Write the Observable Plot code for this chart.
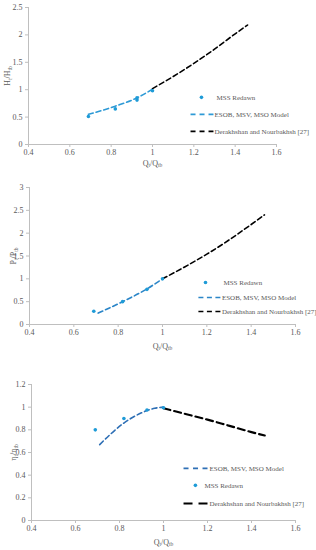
<!DOCTYPE html>
<html>
<head>
<meta charset="utf-8">
<script src="https://cdn.jsdelivr.net/npm/d3@7"></script>
<script src="https://cdn.jsdelivr.net/npm/@observablehq/plot@0.6"></script>
<style>
  body { margin: 0; background: #fff; }
  #wrap { position: relative; width: 316px; height: 550px; overflow: hidden; }
  .fig { position: absolute; left: 0; }
</style>
</head>
<body>
<div id="wrap"></div>
<script>
// ---- shared ----
const xTicks = [0.4, 0.6, 0.8, 1, 1.2, 1.4, 1.6];
const xLabel = "Q{t}/Q{tb}";
const legendNames = ["MSS Redawn", "ESOB, MSV, MSO Model", "Derakhshan and Nourbakhsh [27]"];

// ---- chart 1: head ratio ----
const hTicks = [0, 0.5, 1, 1.5, 2, 2.5];
const hMssQ = [0.69, 0.82, 0.925, 0.925, 1.0];
const hMssV = [0.51, 0.65, 0.81, 0.85, 0.98];
const hModelQ = [0.69, 0.82, 0.93, 1.0];
const hModelV = [0.55, 0.70, 0.86, 1.01];
const hDerQ = [1.0, 1.1, 1.2, 1.3, 1.4, 1.46];
const hDerV = [1.02, 1.24, 1.48, 1.74, 2.02, 2.18];

// ---- chart 2: power ratio ----
const pTicks = [0, 0.5, 1, 1.5, 2, 2.5, 3];
const pMssQ = [0.69, 0.82, 0.93, 1.0];
const pMssV = [0.29, 0.50, 0.77, 1.0];
const pModelQ = [0.71, 0.82, 0.93, 1.0];
const pModelV = [0.25, 0.50, 0.78, 1.0];
const pDerQ = [1.0, 1.1, 1.2, 1.3, 1.4, 1.46];
const pDerV = [1.0, 1.26, 1.54, 1.85, 2.19, 2.40];

// ---- chart 3: efficiency ratio ----
const eTicks = [0, 0.2, 0.4, 0.6, 0.8, 1, 1.2];
const eMssQ = [0.69, 0.82, 0.925, 1.0];
const eMssV = [0.80, 0.90, 0.975, 0.995];
const eModelQ = [0.71, 0.82, 0.90, 0.96, 1.0];
const eModelV = [0.67, 0.86, 0.95, 0.99, 1.0];
const eDerQ = [1.0, 1.1, 1.2, 1.3, 1.4, 1.46];
const eDerV = [0.99, 0.94, 0.89, 0.835, 0.78, 0.75];

const zip = (xs, ys) => xs.map((x, i) => ({x, y: ys[i]}));

const GRAY = "#595959";
const AXIS = "#bfbfbf";
const DOT = "#1e9bd7";
const FONT = "'Liberation Serif', 'DejaVu Serif', serif";

function subLabels(svg) {
  svg.querySelectorAll('g[aria-label="x-axis label"] text, g[aria-label="y-axis label"] text').forEach(t => {
    const s = t.textContent;
    t.textContent = "";
    const parts = s.split(/(\{[^}]*\})/).filter(p => p.length);
    let down = false;
    for (const p of parts) {
      const ts = document.createElementNS("http://www.w3.org/2000/svg", "tspan");
      if (p.startsWith("{")) {
        ts.textContent = p.slice(1, -1);
        ts.setAttribute("font-size", "5.5");
        if (!down) ts.setAttribute("dy", "1.5");
        down = true;
      } else {
        ts.textContent = p;
        if (down) ts.setAttribute("dy", "-1.5");
        down = false;
      }
      t.appendChild(ts);
    }
  });
}

function chart(cfg) {
  const mss = zip(cfg.mssQ, cfg.mssV);
  const model = zip(cfg.modelQ, cfg.modelV);
  const der = zip(cfg.derQ, cfg.derV);
  const L = cfg.legend;
  const legendMarks = [];
  for (const row of L.rows) {
    const [kind, name, yv] = row;
    if (kind === "dot") {
      legendMarks.push(Plot.dot([{x: L.dotX, y: yv}], {x: "x", y: "y", r: 1.8, fill: DOT, stroke: "none"}));
      legendMarks.push(Plot.text([{x: L.dotTextX, y: yv, t: name}], {x: "x", y: "y", text: "t", textAnchor: "start", fill: GRAY, fontSize: 7}));
    } else {
      const col = kind === "model" ? cfg.modelColor : "#000";
      const w = kind === "model" ? 1.6 : cfg.derWidth;
      const da = kind === "model" ? cfg.modelLegendDash : cfg.derLegendDash;
      legendMarks.push(Plot.link([{x1: L.lineX1, x2: L.lineX2, y: yv}], {x1: "x1", x2: "x2", y1: "y", y2: "y", stroke: col, strokeWidth: w, strokeDasharray: da}));
      legendMarks.push(Plot.text([{x: L.textX, y: yv, t: name}], {x: "x", y: "y", text: "t", textAnchor: "start", fill: GRAY, fontSize: 7}));
    }
  }
  const svg = Plot.plot({
    width: 316,
    height: cfg.height,
    marginTop: cfg.mt,
    marginBottom: cfg.mb,
    marginLeft: cfg.ml,
    marginRight: cfg.mr,
    style: {fontFamily: FONT, fontSize: "8px", color: GRAY, background: "white", overflow: "visible"},
    x: {domain: [0.4, 1.6]},
    y: {domain: cfg.yDomain},
    marks: [
      Plot.axisX({ticks: xTicks, tickSize: 3, tickPadding: 2, stroke: AXIS, fill: GRAY, label: xLabel, labelAnchor: "center", labelArrow: "none", labelOffset: cfg.xLabelOffset, tickFormat: d3.format("~g")}),
      Plot.axisY({ticks: cfg.yTicks, tickSize: 3, tickPadding: 3, stroke: AXIS, fill: GRAY, label: cfg.yLabel, labelAnchor: "center", labelArrow: "none", labelOffset: cfg.yLabelOffset, tickFormat: d3.format("~g")}),
      Plot.ruleY([cfg.yDomain[0]], {stroke: AXIS}),
      Plot.ruleX([0.4], {stroke: AXIS}),
      Plot.line(model, {x: "x", y: "y", stroke: cfg.modelColor, strokeWidth: 1.6, strokeDasharray: cfg.modelDash, curve: "monotone-x"}),
      Plot.line(der, {x: "x", y: "y", stroke: "#000", strokeWidth: cfg.derWidth, strokeDasharray: cfg.derDash, curve: "monotone-x"}),
      Plot.dot(mss, {x: "x", y: "y", r: 1.8, fill: DOT, stroke: "none"}),
      ...legendMarks
    ]
  });
  subLabels(svg);
  const div = document.createElement("div");
  div.className = "fig";
  div.style.top = cfg.top + "px";
  div.appendChild(svg);
  document.getElementById("wrap").appendChild(div);
}

chart({
  top: 0, height: 170, mt: 7, mb: 26, ml: 28, mr: 40,
  yDomain: [0, 2.5], yTicks: hTicks, yLabel: "H{t}/H{tb}", xLabelOffset: 21, yLabelOffset: 24,
  mssQ: hMssQ, mssV: hMssV, modelQ: hModelQ, modelV: hModelV, derQ: hDerQ, derV: hDerV,
  modelColor: "#2e9ad6", modelDash: "5,3", derWidth: 1.6, derDash: "5,3",
  modelLegendDash: "5,4", derLegendDash: "5,4",
  legend: {dotX: 1.237, dotTextX: 1.31, lineX1: 1.184, lineX2: 1.295, textX: 1.30,
    rows: [["dot", legendNames[0], 0.86], ["model", legendNames[1], 0.55], ["der", legendNames[2], 0.24]]}
});

chart({
  top: 180, height: 175, mt: 7, mb: 31, ml: 29, mr: 21,
  yDomain: [0, 3], yTicks: pTicks, yLabel: "P{t}/P{tb}", xLabelOffset: 24, yLabelOffset: 19,
  mssQ: pMssQ, mssV: pMssV, modelQ: pModelQ, modelV: pModelV, derQ: pDerQ, derV: pDerV,
  modelColor: "#2b86c8", modelDash: "5,3", derWidth: 1.6, derDash: "5,3",
  modelLegendDash: "5,3.5", derLegendDash: "5,3.5",
  legend: {dotX: 1.194, dotTextX: 1.275, lineX1: 1.162, lineX2: 1.262, textX: 1.268,
    rows: [["dot", legendNames[0], 0.92], ["model", legendNames[1], 0.59], ["der", legendNames[2], 0.285]]}
});

chart({
  top: 360, height: 190, mt: 24, mb: 30, ml: 31, mr: 21,
  yDomain: [0, 1.2], yTicks: eTicks, yLabel: "η{t}/η{tb}", xLabelOffset: 24, yLabelOffset: 21,
  mssQ: eMssQ, mssV: eMssV, modelQ: eModelQ, modelV: eModelV, derQ: eDerQ, derV: eDerV,
  modelColor: "#2e6fb5", modelDash: "5,3", derWidth: 2.2, derDash: "7,4",
  modelLegendDash: "5,4.5", derLegendDash: "9,6",
  legend: {dotX: 1.145, dotTextX: 1.186, lineX1: 1.091, lineX2: 1.20, textX: 1.209,
    rows: [["model", legendNames[1], 0.46], ["dot", legendNames[0], 0.31], ["der", legendNames[2], 0.15]]}
});
</script>
</body>
</html>
